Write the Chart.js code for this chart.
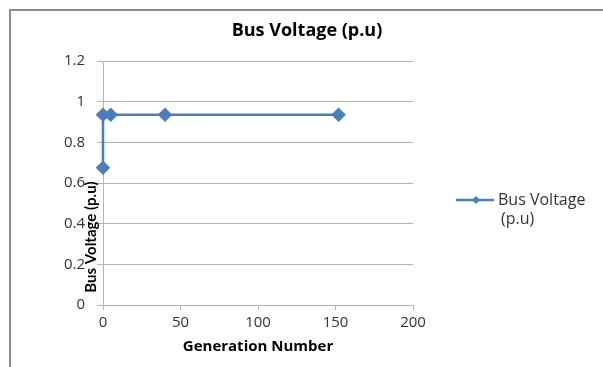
<!DOCTYPE html>
<html>
<head>
<meta charset="utf-8">
<script src="https://cdn.jsdelivr.net/npm/chart.js@4/dist/chart.umd.min.js"></script>
<style>
  html, body { margin: 0; padding: 0; background: #fff; }
  #wrap { position: relative; width: 603px; height: 367px; }
  #frame {
    position: absolute; left: 9px; top: 9px; right: 0; bottom: 0;
    border-top: 2px solid #8c8c8c; border-left: 2px solid #8c8c8c;
  }
  #chart { position: absolute; left: 0; top: 0; }
</style>
</head>
<body>
<div id="wrap">
  <div id="frame"></div>
  <canvas id="chart" width="603" height="367"></canvas>
</div>
<script>
// data
const generations = [0, 0, 5, 40, 152];
const busVoltage = [0.675, 0.936, 0.936, 0.936, 0.936];
const seriesName = ['Bus Voltage', '(p.u)'];
const chartTitle = 'Bus Voltage (p.u)';
const xTitle = 'Generation Number';
const yTitle = 'Bus Voltage (p.u)';

const FONT = "'Open Sans', sans-serif";
const NARROW = "Lato, sans-serif";
const LINE = '#4a7ebb';
const GRID = '#b5b5b5';

// titles and legend drawn by hand to sit where Excel put them
const textPlugin = {
    id: 'excelText',
    afterDraw(chart) {
        const ctx = chart.ctx;
        const area = chart.chartArea;
        ctx.save();
        ctx.fillStyle = '#000';
        ctx.textAlign = 'center';
        ctx.textBaseline = 'middle';

        ctx.font = 'bold 18px ' + FONT;
        ctx.fillText(chartTitle, 307, 31);

        ctx.font = 'bold 15px ' + FONT;
        ctx.fillText(xTitle, (area.left + area.right) / 2, 347);

        ctx.save();
        ctx.translate(91, 237);
        ctx.rotate(-Math.PI / 2);
        ctx.font = 'bold 15px ' + NARROW;
        ctx.fillText(yTitle, 0, 0);
        ctx.restore();

        // legend
        ctx.strokeStyle = LINE;
        ctx.lineWidth = 2.5;
        ctx.beginPath();
        ctx.moveTo(456, 200);
        ctx.lineTo(494, 200);
        ctx.stroke();
        ctx.fillStyle = LINE;
        ctx.beginPath();
        ctx.moveTo(476, 196);
        ctx.lineTo(480, 200);
        ctx.lineTo(476, 204);
        ctx.lineTo(472, 200);
        ctx.closePath();
        ctx.fill();

        ctx.fillStyle = '#333';
        ctx.textAlign = 'left';
        ctx.font = '16px ' + FONT;
        ctx.fillText(seriesName[0], 498, 200);
        ctx.fillText(seriesName[1], 501, 219);
        ctx.restore();
    }
};

new Chart(document.getElementById('chart'), {
    type: 'scatter',
    data: {
        datasets: [{
            label: seriesName.join(' '),
            data: generations.map((g, i) => ({ x: g, y: busVoltage[i] })),
            showLine: true,
            clip: false,
            borderColor: LINE,
            backgroundColor: LINE,
            borderWidth: 2.5,
            pointStyle: 'rectRot',
            pointRadius: 5.5,
            pointHoverRadius: 5.5
        }]
    },
    options: {
        responsive: false,
        animation: false,
        events: [],
        layout: { padding: { left: 63, right: 190, top: 61, bottom: 32 } },
        plugins: {
            legend: { display: false },
            title: { display: false },
            tooltip: { enabled: false }
        },
        scales: {
            x: {
                type: 'linear',
                min: 0,
                max: 200,
                ticks: {
                    stepSize: 50,
                    color: '#333',
                    font: { family: FONT, size: 15 },
                    padding: 4,
                    maxRotation: 0
                },
                grid: { drawOnChartArea: false, drawTicks: true, tickLength: 5, color: GRID },
                border: { display: true, color: GRID, width: 1 },
                afterFit(scale) { scale.height = 30; }
            },
            y: {
                min: 0,
                max: 1.2,
                ticks: {
                    stepSize: 0.2,
                    color: '#333',
                    font: { family: FONT, size: 15 },
                    padding: 12,
                    callback: v => Math.round(v * 10) / 10
                },
                grid: { color: GRID, tickLength: 6 },
                border: { display: true, color: GRID, width: 1 },
                afterFit(scale) { scale.width = 40; }
            }
        }
    },
    plugins: [textPlugin]
});
</script>
</body>
</html>
